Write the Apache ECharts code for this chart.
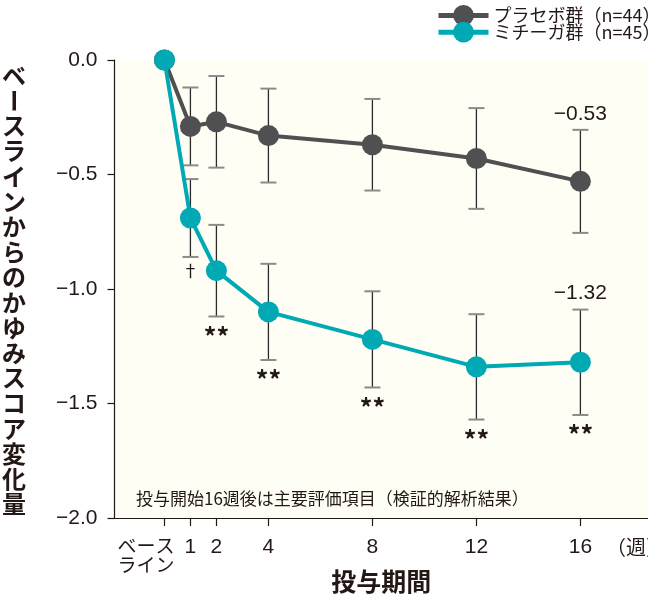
<!DOCTYPE html>
<html>
<head>
<meta charset="utf-8">
<script src="https://cdn.jsdelivr.net/npm/echarts@6/dist/echarts.min.js"></script>
<style>
html,body{margin:0;padding:0;background:#ffffff;}
#chart{width:648px;height:602px;}
</style>
</head>
<body>
<div id="chart"></div>
<script>
// ---- data ----
var weeks = [0, 1, 2, 4, 8, 12, 16];
var xTickLabels = ['ベース\nライン', '1', '2', '4', '8', '12', '16'];
var placeboName = 'プラセボ群（n=44）';
var mitigaName = 'ミチーガ群（n=45）';
var placeboMean = [0, -0.29, -0.27, -0.33, -0.37, -0.43, -0.53];
var placeboSE = [0, 0.17, 0.20, 0.205, 0.20, 0.22, 0.225];
var mitigaMean = [0, -0.69, -0.92, -1.10, -1.22, -1.34, -1.32];
var mitigaSE = [0, 0.17, 0.20, 0.21, 0.21, 0.23, 0.23];
var mitigaSig = ['', '†', '**', '**', '**', '**', '**'];
var endLabels = ['−0.53', '−1.32'];
var yTitle = 'ベースラインからのかゆみスコア変化量';
var xTitle = '投与期間';
var weekUnit = '（週）';
var note = '投与開始16週後は主要評価項目（検証的解析結果）';

var INK = '#231815';
var GRAY = '#505052';
var TEAL = '#00a9b4';
var NUMFONT = '"Liberation Sans", "Noto Sans CJK JP", sans-serif';
var JPFONT = '"Noto Sans CJK JP", sans-serif';

function pairs(xs, ys) { return xs.map(function (x, i) { return [x, ys[i]]; }); }

function errData(means, ses, sig, endLabel) {
  var out = [];
  for (var i = 0; i < weeks.length; i++) {
    if (!ses[i]) continue;
    out.push([weeks[i], means[i] + ses[i], means[i] - ses[i], sig ? sig[i] : '', i === weeks.length - 1 ? endLabel : '']);
  }
  return out;
}

function errRender(params, api) {
  var x = api.value(0);
  var hi = api.coord([x, api.value(1)]);
  var lo = api.coord([x, api.value(2)]);
  var hw = 8;
  var children = [
    { type: 'line', shape: { x1: hi[0], y1: hi[1], x2: lo[0], y2: lo[1] }, style: { stroke: '#2a2a2a', lineWidth: 1.3 } },
    { type: 'line', shape: { x1: hi[0] - hw, y1: hi[1], x2: hi[0] + hw, y2: hi[1] }, style: { stroke: '#8a8a8a', lineWidth: 2 } },
    { type: 'line', shape: { x1: lo[0] - hw, y1: lo[1], x2: lo[0] + hw, y2: lo[1] }, style: { stroke: '#8a8a8a', lineWidth: 2 } }
  ];
  var s = api.value(3);
  if (s && s !== '-') {
    var dagger = s === '†';
    children.push({ type: 'text', x: lo[0], y: lo[1] + (dagger ? 14 : 20),
      style: { text: s, fill: INK, font: (dagger ? 'normal 17px ' : 'bold 25px ') + JPFONT, align: 'center', verticalAlign: 'middle' } });
  }
  var e = api.value(4);
  if (e && e !== '-') {
    children.push({ type: 'text', x: hi[0], y: hi[1] - 16,
      style: { text: e, fill: INK, font: '21px ' + NUMFONT, align: 'center', verticalAlign: 'middle' } });
  }
  return { type: 'group', children: children };
}

var titleGraphics = [];
var chars = yTitle.split('');
var pitch = 25.2, y0 = 75.6;
chars.forEach(function (c, i) {
  var el = { type: 'text', x: 14, y: y0 + i * pitch,
    style: { text: c, fill: INK, font: 'bold 24px ' + JPFONT, align: 'center', verticalAlign: 'middle' } };
  if (c === 'ー') { el.rotation = -Math.PI / 2; }
  titleGraphics.push(el);
});

// ticks: nudge the baseline value slightly so it is not dropped
var tickVals = weeks.map(function (w) { return w === 0 ? 1e-6 : w; });
var labelVals = weeks.slice(1);

var chart = echarts.init(document.getElementById('chart'), null, { renderer: 'canvas' });
chart.setOption({
  animation: false,
  backgroundColor: '#ffffff',
  textStyle: { fontFamily: JPFONT },
  grid: { left: 114.5, top: 60, right: 0, bottom: 84, show: true, backgroundColor: '#fffef5', borderWidth: 0,
    containLabel: false, outerBoundsMode: 'none' },
  legend: {
    left: 431, top: 0, orient: 'vertical', itemWidth: 50, itemHeight: 26, itemGap: -4,
    lineStyle: { width: 5 },
    textStyle: { fontSize: 18, color: INK, fontFamily: JPFONT },
    data: [placeboName, mitigaName]
  },
  xAxis: {
    type: 'value', min: -1.92, max: 18.6,
    splitLine: { show: false },
    axisLine: { show: true, onZero: false, lineStyle: { color: INK, width: 1.2 } },
    axisTick: { show: true, customValues: tickVals, length: 8, lineStyle: { color: INK, width: 1.2 } },
    axisLabel: {
      customValues: labelVals, margin: 19, fontSize: 21, color: INK, fontFamily: NUMFONT,
      hideOverlap: false,
      formatter: function (v) { return xTickLabels[weeks.indexOf(v)]; }
    },
    name: xTitle, nameLocation: 'middle', nameGap: 51,
    nameTextStyle: { fontSize: 25, fontWeight: 'bold', color: INK, fontFamily: JPFONT }
  },
  yAxis: {
    type: 'value', min: -2, max: 0, interval: 0.5,
    splitLine: { show: false },
    axisLine: { show: true, onZero: false, lineStyle: { color: INK, width: 1.2 } },
    axisTick: { show: true, length: 7, lineStyle: { color: INK, width: 1.2 } },
    axisLabel: {
      margin: 17, fontSize: 21, color: INK, fontFamily: NUMFONT,
      formatter: function (v) { return v === 0 ? '0.0' : '−' + Math.abs(v).toFixed(1); }
    }
  },
  graphic: titleGraphics.concat([
    { type: 'text', x: 146, y: 536.5, style: { text: xTickLabels[0], fill: INK, font: '19px ' + JPFONT, lineHeight: 19, align: 'center', verticalAlign: 'top' } },
    { type: 'text', x: 606, y: 547, style: { text: weekUnit, fill: INK, font: '20px ' + JPFONT, align: 'left', verticalAlign: 'middle' } },
    { type: 'text', x: 136, y: 499, style: { text: note, fill: INK, font: '17px ' + JPFONT, align: 'left', verticalAlign: 'middle' } }
  ]),
  series: [
    { type: 'custom', name: 'pe', renderItem: errRender, data: errData(placeboMean, placeboSE, null, endLabels[0]), z: 1, silent: true },
    { type: 'custom', name: 'me', renderItem: errRender, data: errData(mitigaMean, mitigaSE, mitigaSig, endLabels[1]), z: 1, silent: true },
    { type: 'line', name: placeboName, data: pairs(weeks, placeboMean), symbol: 'circle', symbolSize: 21,
      itemStyle: { color: GRAY }, lineStyle: { color: GRAY, width: 4 }, z: 3 },
    { type: 'line', name: mitigaName, data: pairs(weeks, mitigaMean), symbol: 'circle', symbolSize: 21,
      itemStyle: { color: TEAL }, lineStyle: { color: TEAL, width: 4 }, z: 4 }
  ]
});
</script>
</body>
</html>
